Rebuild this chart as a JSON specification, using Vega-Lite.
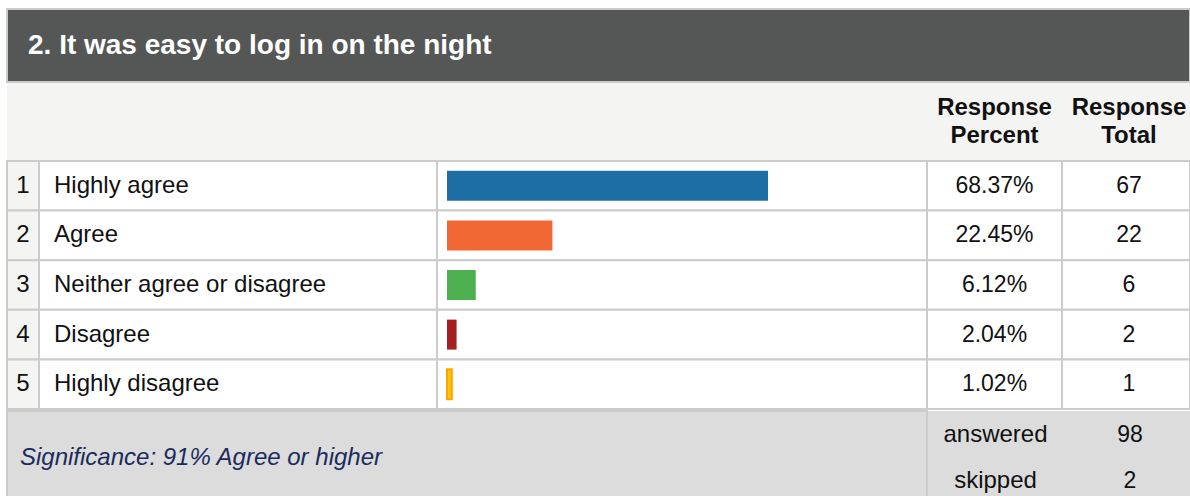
{
  "$schema": "https://vega.github.io/schema/vega-lite/v6.json",
  "padding": {"left": 5, "top": 8, "right": 0, "bottom": 0},
  "background": "#ffffff",
  "spacing": -2,
  "config": {
    "view": {"stroke": "#cccccc", "strokeWidth": 2},
    "font": "Liberation Sans",
    "text": {"font": "Liberation Sans", "fontSize": 24, "color": "#111111", "baseline": "middle"}
  },
  "datasets": {
    "titles": [{"t": "2. It was easy to log in on the night"}],
    "header": [
      {"c": "blank", "h": ""},
      {"c": "pct", "h": "Response\nPercent"},
      {"c": "total", "h": "Response\nTotal"}
    ],
    "rows": [
      {"n": 1, "label": "Highly agree", "pct": 0.6837, "total": 67},
      {"n": 2, "label": "Agree", "pct": 0.2245, "total": 22},
      {"n": 3, "label": "Neither agree or disagree", "pct": 0.0612, "total": 6},
      {"n": 4, "label": "Disagree", "pct": 0.0204, "total": 2},
      {"n": 5, "label": "Highly disagree", "pct": 0.0102, "total": 1}
    ],
    "summary": [
      {"k": "answered", "v": 98},
      {"k": "skipped", "v": 2}
    ],
    "notes": [{"s": "Significance: 91% Agree or higher"}]
  },
  "vconcat": [
    {
      "width": 1183,
      "height": 73,
      "view": {"fill": "#555756", "stroke": "#cccccc"},
      "data": {"name": "titles"},
      "mark": {"type": "text", "align": "left", "fontSize": 28, "fontWeight": "bold", "color": "#ffffff"},
      "encoding": {"text": {"field": "t"}, "x": {"value": 21}}
    },
    {
      "spacing": 0,
      "bounds": "flush",
      "hconcat": [
        {
          "width": 920, "height": 78,
          "view": {"fill": "#f4f4f3"},
          "data": {"name": "header"},
          "transform": [{"filter": "datum.c == 'blank'"}],
          "mark": {"type": "text"},
          "encoding": {"text": {"field": "h"}}
        },
        {
          "width": 135, "height": 78,
          "view": {"fill": "#f4f4f3"},
          "data": {"name": "header"},
          "transform": [{"filter": "datum.c == 'pct'"}],
          "mark": {"type": "text", "fontWeight": "bold", "lineBreak": "\n", "lineHeight": 28, "align": "center", "dy": -14},
          "encoding": {"text": {"field": "h"}}
        },
        {
          "width": 128, "height": 78,
          "view": {"fill": "#f4f4f3"},
          "data": {"name": "header"},
          "transform": [{"filter": "datum.c == 'total'"}],
          "mark": {"type": "text", "fontWeight": "bold", "lineBreak": "\n", "lineHeight": 28, "align": "center", "dx": 3, "dy": -14},
          "encoding": {"text": {"field": "h"}}
        }
      ]
    },
    {
      "spacing": 0,
      "bounds": "flush",
      "hconcat": [
        {
          "width": 32, "height": 248,
          "data": {"name": "rows"},
          "encoding": {"y": {"field": "n", "type": "ordinal", "axis": null, "scale": {"paddingInner": 0, "paddingOuter": 0}}},
          "layer": [
            {"mark": {"type": "rect", "fill": "#f4f4f3", "stroke": "#cccccc", "strokeWidth": 2}},
            {"mark": {"type": "text"}, "encoding": {"text": {"field": "n"}}}
          ]
        },
        {
          "width": 398, "height": 248,
          "data": {"name": "rows"},
          "encoding": {"y": {"field": "n", "type": "ordinal", "axis": null, "scale": {"paddingInner": 0, "paddingOuter": 0}}},
          "layer": [
            {"mark": {"type": "rect", "fill": "#ffffff", "stroke": "#cccccc", "strokeWidth": 2}},
            {"mark": {"type": "text", "align": "left"}, "encoding": {"text": {"field": "label"}, "x": {"value": 15}}}
          ]
        },
        {
          "width": 490, "height": 248,
          "data": {"name": "rows"},
          "encoding": {"y": {"field": "n", "type": "ordinal", "axis": null, "scale": {"paddingInner": 0, "paddingOuter": 0}}},
          "layer": [
            {"mark": {"type": "rect", "fill": "#ffffff", "stroke": "#cccccc", "strokeWidth": 2}},
            {
              "mark": {"type": "bar", "size": 30},
              "encoding": {
                "x": {"field": "pct", "type": "quantitative", "axis": null, "scale": {"domain": [0, 1], "range": [10, 479.5]}},
                "color": {"field": "label", "type": "nominal", "legend": null,
                  "scale": {"domain": ["Highly agree", "Agree", "Neither agree or disagree", "Disagree", "Highly disagree"],
                            "range": ["#1d6ea5", "#f26835", "#4caf50", "#a51e22", "#ffc20e"]}},
                "stroke": {"field": "label", "type": "nominal", "legend": null,
                  "scale": {"domain": ["Highly agree", "Agree", "Neither agree or disagree", "Disagree", "Highly disagree"],
                            "range": ["#1d6ea5", "#f26835", "#4caf50", "#a51e22", "#ffa500"]}},
                "strokeWidth": {"condition": {"test": "datum.n == 5", "value": 2}, "value": 0}
              }
            }
          ]
        },
        {
          "width": 135, "height": 248,
          "data": {"name": "rows"},
          "encoding": {"y": {"field": "n", "type": "ordinal", "axis": null, "scale": {"paddingInner": 0, "paddingOuter": 0}}},
          "layer": [
            {"mark": {"type": "rect", "fill": "#ffffff", "stroke": "#cccccc", "strokeWidth": 2}},
            {"mark": {"type": "text", "fontSize": 23}, "encoding": {"text": {"field": "pct", "type": "quantitative", "format": ".2%"}}}
          ]
        },
        {
          "width": 128, "height": 248,
          "data": {"name": "rows"},
          "encoding": {"y": {"field": "n", "type": "ordinal", "axis": null, "scale": {"paddingInner": 0, "paddingOuter": 0}}},
          "layer": [
            {"mark": {"type": "rect", "fill": "#ffffff", "stroke": "#cccccc", "strokeWidth": 2}},
            {"mark": {"type": "text", "dx": 3, "fontSize": 23}, "encoding": {"text": {"field": "total", "type": "quantitative"}}}
          ]
        }
      ]
    },
    {
      "spacing": -2,
      "hconcat": [
        {
          "width": 920, "height": 88,
          "view": {"fill": "#dcdcdc"},
          "data": {"name": "notes"},
          "mark": {"type": "text", "align": "left", "fontStyle": "italic", "color": "#1a2b5c", "dy": 3},
          "encoding": {"text": {"field": "s"}, "x": {"value": 13}}
        },
        {
          "spacing": 0,
          "bounds": "flush",
          "vconcat": [
            {
              "width": 135, "height": 47,
              "view": {"fill": "#dcdcdc"},
              "data": {"name": "summary"},
              "transform": [{"filter": "datum.k == 'answered'"}],
              "mark": {"type": "text"},
              "encoding": {"text": {"field": "k"}}
            },
            {
              "width": 135, "height": 41,
              "view": {"fill": "#dcdcdc"},
              "data": {"name": "summary"},
              "transform": [{"filter": "datum.k == 'skipped'"}],
              "mark": {"type": "text", "dy": 2},
              "encoding": {"text": {"field": "k"}}
            }
          ]
        },
        {
          "spacing": 0,
          "bounds": "flush",
          "vconcat": [
            {
              "width": 128, "height": 47,
              "view": {"fill": "#dcdcdc"},
              "data": {"name": "summary"},
              "transform": [{"filter": "datum.k == 'answered'"}],
              "mark": {"type": "text", "dx": 3, "fontSize": 23},
              "encoding": {"text": {"field": "v", "type": "quantitative"}}
            },
            {
              "width": 128, "height": 41,
              "view": {"fill": "#dcdcdc"},
              "data": {"name": "summary"},
              "transform": [{"filter": "datum.k == 'skipped'"}],
              "mark": {"type": "text", "dx": 3, "dy": 2, "fontSize": 23},
              "encoding": {"text": {"field": "v", "type": "quantitative"}}
            }
          ]
        }
      ]
    }
  ]
}
